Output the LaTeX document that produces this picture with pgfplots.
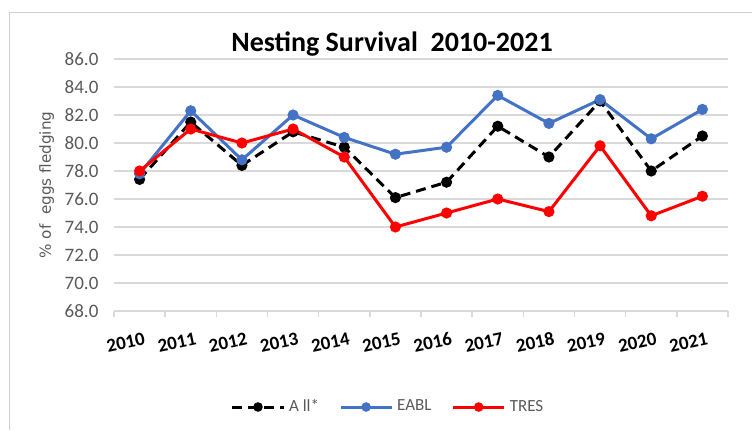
\documentclass[border=0pt]{standalone}
\usepackage{fontspec}
\setmainfont{Carlito}
\newfontfamily\dejavu{DejaVu Sans}
\usepackage{pgfplots}
\pgfplotsset{compat=1.18}
\definecolor{eabl}{HTML}{4472C4}
\definecolor{tres}{HTML}{FF0000}
\definecolor{txtgray}{HTML}{595959}
\definecolor{gridgray}{HTML}{D9D9D9}
\definecolor{framegray}{HTML}{D0D0D0}

% year index, All*, EABL, TRES
\pgfplotstableread{
x  all   eabl  tres
0  77.4  77.8  78.0
1  81.5  82.3  81.0
2  78.4  78.8  80.0
3  80.8  82.0  81.0
4  79.7  80.4  79.0
5  76.1  79.2  74.0
6  77.2  79.7  75.0
7  81.2  83.4  76.0
8  79.0  81.4  75.1
9  83.0  83.1  79.8
10 78.0  80.3  74.8
11 80.5  82.4  76.2
}\nestdata

\begin{document}
\begin{tikzpicture}
\useasboundingbox (0,0) rectangle (376pt,-215pt);
\draw[framegray, line width=0.5pt] (376pt,-6pt) -- (4.5pt,-6pt) -- (4.5pt,-215pt);
\node[font=\bfseries\fontsize{14}{16}\selectfont] at (196pt,-22pt) {Nesting Survival\ \ 2010-2021};
\begin{axis}[
  at={(57pt,-29.5pt)}, anchor=north west,
  width=307pt, height=126pt, scale only axis,
  xmin=-0.5, xmax=11.5, ymin=68, ymax=86,
  xtick={0,...,11},
  xticklabels={2010,2011,2012,2013,2014,2015,2016,2017,2018,2019,2020,2021},
  minor xtick={-0.5,0.5,...,11.5},
  ytick={68,70,...,86},
  axis x line*=bottom, axis y line*=left,
  x axis line style={draw=gridgray, line width=0.8pt, -},
  y axis line style={draw=none},
  major x tick style={draw=none},
  minor x tick style={draw=gridgray, line width=0.8pt},
  minor tick length=3pt, tick align=outside,
  ytick style={draw=none},
  ymajorgrids, grid style={gridgray, line width=0.8pt},
  /pgf/number format/assume math mode=true,
  yticklabel style={text=txtgray, font=\fontsize{9.5}{11}\selectfont,
    /pgf/number format/.cd, fixed, fixed zerofill, precision=1},
  xticklabel style={font=\bfseries\fontsize{9.5}{11}\selectfont, rotate=12,
    anchor=north east, xshift=4pt, yshift=-3pt},
  ylabel={\dejavu\% of\ \ eggs fledging},
  ylabel style={text=txtgray, font=\fontsize{7.6}{9}\selectfont, yshift=-1.5pt},
  legend columns=3,
  legend style={at={(0.448,-0.381)}, anchor=center, draw=none, fill=none,
    font=\fontsize{8.5}{10}\selectfont, text=txtgray,
    /tikz/every even column/.append style={column sep=8pt}},
  legend image code/.code={
    \draw[mark repeat=2, mark phase=2, mark size=1.6pt, #1] plot coordinates {(0cm,0cm) (0.45cm,0cm) (0.9cm,0cm)};
  },
  every axis plot/.append style={line width=1.5pt, mark=*, mark size=2pt},
]
\addplot[black, dashed, dash pattern=on 5pt off 3pt, mark options={solid}] table[x=x, y=all] {\nestdata};
\addlegendentry{A ll*}
\addplot[eabl, mark options={fill=eabl}] table[x=x, y=eabl] {\nestdata};
\addlegendentry{EABL}
\addplot[tres, mark options={fill=tres}] table[x=x, y=tres] {\nestdata};
\addlegendentry{TRES}
\end{axis}
\end{tikzpicture}
\end{document}
